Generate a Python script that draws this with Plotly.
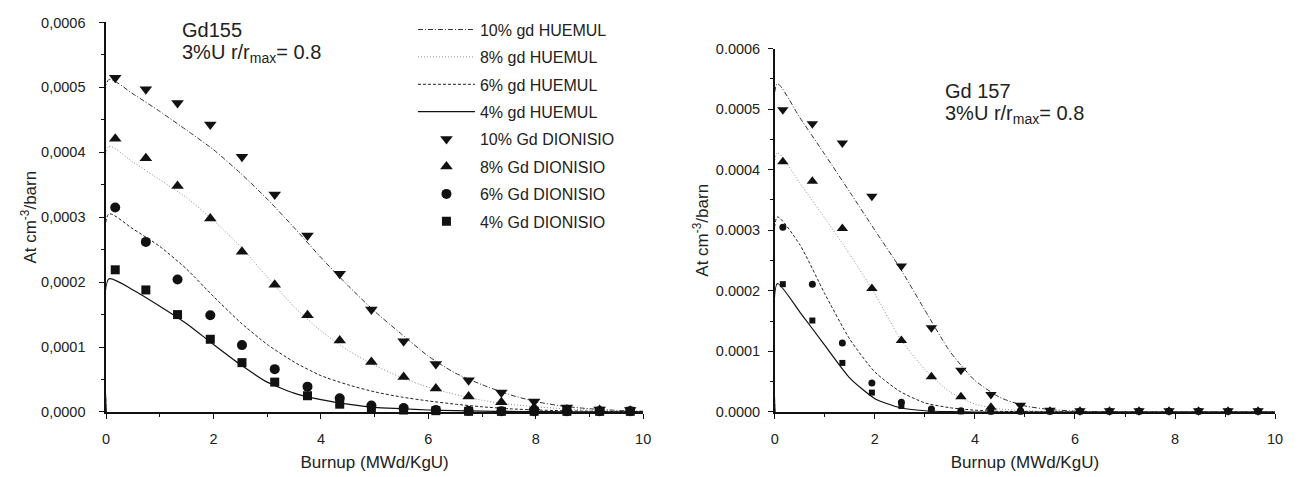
import plotly.graph_objects as go

# ---------- data ----------
# HUEMUL calculation curves (left: Gd155)
line_x = [0, 0.05, 0.5, 1, 1.5, 2, 2.5, 3, 3.5, 4, 4.5, 5, 5.5, 6, 6.5, 7, 7.5, 8, 8.5, 9, 9.5, 10]
gd155_h10 = [0, 5.12, 4.9, 4.63, 4.34, 4.04, 3.68, 3.28, 2.84, 2.38, 1.95, 1.55, 1.2, 0.86, 0.6, 0.42, 0.27, 0.16, 0.09, 0.05, 0.025, 0.012]
gd155_h8 = [0, 4.09, 3.85, 3.58, 3.3, 2.95, 2.55, 2.08, 1.62, 1.25, 0.95, 0.72, 0.53, 0.38, 0.27, 0.18, 0.12, 0.08, 0.05, 0.03, 0.015, 0.008]
gd155_h6 = [0, 3.05, 2.82, 2.55, 2.2, 1.78, 1.38, 1.04, 0.77, 0.56, 0.42, 0.31, 0.23, 0.17, 0.12, 0.08, 0.05, 0.03, 0.02, 0.012, 0.007, 0.004]
gd155_h4 = [0, 2.05, 1.88, 1.63, 1.36, 1.04, 0.73, 0.46, 0.29, 0.19, 0.12, 0.07, 0.05, 0.03, 0.02, 0.012, 0.008, 0.005, 0.003, 0.002, 0.001, 0.001]

# DIONISIO points (left: Gd155)
pt_x = [0.17, 0.74, 1.33, 1.94, 2.53, 3.14, 3.75, 4.35, 4.94, 5.54, 6.14, 6.75, 7.36, 7.97, 8.58, 9.19, 9.76]
gd155_d10 = [5.15, 4.97, 4.76, 4.43, 3.93, 3.35, 2.72, 2.13, 1.58, 1.09, 0.74, 0.49, 0.30, 0.16, 0.07, 0.04, 0.03]
gd155_d8 = [4.21, 3.91, 3.48, 2.98, 2.47, 1.96, 1.49, 1.10, 0.77, 0.54, 0.36, 0.24, 0.15, 0.07, 0.04, 0.03, 0.02]
gd155_d6 = [3.15, 2.62, 2.04, 1.49, 1.03, 0.66, 0.39, 0.21, 0.10, 0.06, 0.03, 0.02, 0.01, 0.01, 0.01, 0.01, 0.01]
gd155_d4 = [2.19, 1.88, 1.50, 1.12, 0.76, 0.46, 0.25, 0.12, 0.05, 0.03, 0.02, 0.01, 0.01, 0.01, 0.01, 0.01, 0.01]

# HUEMUL calculation curves (right: Gd157)
gd157_h10 = [0, 5.42, 4.86, 4.25, 3.63, 3.0, 2.38, 1.68, 1.0, 0.52, 0.24, 0.1, 0.04, 0.015, 0.006, 0.002, 0, 0, 0, 0, 0, 0]
gd157_h8 = [0, 4.28, 3.78, 3.2, 2.6, 1.95, 1.22, 0.7, 0.33, 0.13, 0.05, 0.02, 0.008, 0.003, 0, 0, 0, 0, 0, 0, 0, 0]
gd157_h6 = [0, 3.22, 2.76, 1.95, 1.2, 0.66, 0.34, 0.15, 0.07, 0.03, 0.01, 0.005, 0, 0, 0, 0, 0, 0, 0, 0, 0, 0]
gd157_h4 = [0, 2.12, 1.65, 1.1, 0.56, 0.22, 0.07, 0.02, 0.005, 0, 0, 0, 0, 0, 0, 0, 0, 0, 0, 0, 0, 0]

# DIONISIO points (right: Gd157)
pt_x2 = [0.16, 0.75, 1.35, 1.94, 2.53, 3.13, 3.72, 4.32, 4.91, 5.5, 6.1, 6.69, 7.28, 7.88, 8.47, 9.06, 9.66]
gd157_d10 = [4.99, 4.76, 4.44, 3.56, 2.41, 1.39, 0.69, 0.29, 0.11, 0.03, 0.02, 0.02, 0.02, 0.02, 0.02, 0.02, 0.02]
gd157_d8 = [4.13, 3.81, 3.03, 2.04, 1.18, 0.58, 0.25, 0.08, 0.02, 0.01, 0.01, 0.01, 0.01, 0.01, 0.01, 0.01, 0.01]
gd157_d6 = [3.05, 2.11, 1.14, 0.48, 0.16, 0.05, 0.02, 0.01, 0.01, 0.01, 0.01, 0.01, 0.01, 0.01, 0.01, 0.01, 0.01]
gd157_d4 = [2.11, 1.51, 0.81, 0.32, 0.10, 0.02, 0.01, 0.01, 0.01, 0.01, 0.01, 0.01, 0.01, 0.01, 0.01, 0.01, 0.01]

scale = 1e-4  # values above are in units of 1e-4 at/cm^3/barn

x_ticks = [0, 2, 4, 6, 8, 10]
y_ticks = [0, 0.0001, 0.0002, 0.0003, 0.0004, 0.0005, 0.0006]
y_ticktext_left = ["0,0000", "0,0001", "0,0002", "0,0003", "0,0004", "0,0005", "0,0006"]
y_ticktext_right = ["0.0000", "0.0001", "0.0002", "0.0003", "0.0004", "0.0005", "0.0006"]

line_names = ["10% gd HUEMUL", "8% gd HUEMUL", "6% gd HUEMUL", "4% gd HUEMUL"]
pt_names = ["10% Gd DIONISIO", "8% Gd DIONISIO", "6% Gd DIONISIO", "4% Gd DIONISIO"]

FONT = "Liberation Sans, Arial, sans-serif"
TXT = "#222222"

line_styles = [
    dict(color="#333333", width=1, dash="5px,2px,1px,2px", shape="spline", smoothing=0.6),
    dict(color="#8a8a8a", width=1, dash="1px,2px", shape="spline", smoothing=0.6),
    dict(color="#222222", width=1, dash="3px,2px", shape="spline", smoothing=0.6),
    dict(color="#111111", width=1.2, dash="solid", shape="spline", smoothing=0.6),
]
symbols = ["triangle-down", "triangle-up", "circle", "square"]
sizes_left = [11, 11, 10, 9]
sizes_right = [10, 10, 7, 6]

fig = go.Figure()

left_lines = [gd155_h10, gd155_h8, gd155_h6, gd155_h4]
left_pts = [gd155_d10, gd155_d8, gd155_d6, gd155_d4]
right_lines = [gd157_h10, gd157_h8, gd157_h6, gd157_h4]
right_pts = [gd157_d10, gd157_d8, gd157_d6, gd157_d4]

for i in range(4):
    fig.add_trace(go.Scatter(
        x=line_x, y=[v * scale for v in left_lines[i]], mode="lines",
        name=line_names[i], line=line_styles[i], legendgroup=f"g{i}",
        xaxis="x", yaxis="y"))
for i in range(4):
    fig.add_trace(go.Scatter(
        x=pt_x, y=[v * scale for v in left_pts[i]], mode="markers",
        name=pt_names[i], marker=dict(symbol=symbols[i], size=sizes_left[i], color="#111111"),
        legendgroup=f"p{i}", cliponaxis=False, xaxis="x", yaxis="y"))
for i in range(4):
    fig.add_trace(go.Scatter(
        x=line_x, y=[v * scale for v in right_lines[i]], mode="lines",
        name=line_names[i], line=line_styles[i], showlegend=False,
        xaxis="x2", yaxis="y2"))
for i in range(4):
    fig.add_trace(go.Scatter(
        x=pt_x2, y=[v * scale for v in right_pts[i]], mode="markers",
        name=pt_names[i], marker=dict(symbol=symbols[i], size=sizes_right[i], color="#111111"),
        showlegend=False, cliponaxis=False, xaxis="x2", yaxis="y2"))

axis_common = dict(
    showgrid=False, zeroline=False, showline=True, linecolor="#111111", linewidth=1.5,
    ticks="outside", ticklen=5, tickwidth=1.2, tickcolor="#111111",
    tickfont=dict(family=FONT, size=14.5, color=TXT),
)

xtitle = dict(text="Burnup (MWd/KgU)", font=dict(family=FONT, size=17, color=TXT), standoff=10)
ytitle = dict(text="At cm<sup>-3</sup>/barn", font=dict(family=FONT, size=17, color=TXT))
xminor = dict(dtick=1, ticks="outside", ticklen=3, tickcolor="#111111")
yminor = dict(dtick=0.00005, ticks="outside", ticklen=3, tickcolor="#111111")

fig.update_layout(
    width=1298, height=477,
    margin=dict(l=0, r=0, t=0, b=0),
    paper_bgcolor="white", plot_bgcolor="white",
    font=dict(family=FONT, color=TXT),
    xaxis=dict(domain=[0.0794, 0.497], anchor="y", range=[0, 10], tickvals=x_ticks,
               minor=xminor, ticklabelstandoff=8, title=xtitle, **axis_common),
    yaxis=dict(domain=[0.1237, 0.9686], anchor="x", range=[0, 0.0006], tickvals=y_ticks,
               ticktext=y_ticktext_left, minor=yminor, ticklabelstandoff=11,
               title=dict(standoff=0, **ytitle), **axis_common),
    xaxis2=dict(domain=[0.5994, 0.9884], anchor="y2", range=[0, 10], tickvals=x_ticks,
                minor=xminor, ticklabelstandoff=8, title=xtitle, **axis_common),
    yaxis2=dict(domain=[0.1237, 0.912], anchor="x2", range=[0, 0.0006], tickvals=y_ticks,
                ticktext=y_ticktext_right, minor=yminor, ticklabelstandoff=5,
                title=dict(standoff=3, **ytitle), **axis_common),
    legend=dict(x=0.318, y=0.99, xanchor="left", yanchor="top", bgcolor="rgba(0,0,0,0)",
                font=dict(family=FONT, size=16, color=TXT),
                itemwidth=57, tracegroupgap=3.6, traceorder="grouped"),
    showlegend=True,
    annotations=[
        dict(text="Gd155", xref="paper", yref="paper",
             x=0.1371, y=0.981, xanchor="left", yanchor="top", align="left", showarrow=False,
             font=dict(family=FONT, size=20, color=TXT)),
        dict(text="3%U r/r<sub>max</sub>= 0.8", xref="paper", yref="paper",
             x=0.1371, y=0.933, xanchor="left", yanchor="top", align="left", showarrow=False,
             font=dict(family=FONT, size=20, color=TXT)),
        dict(text="Gd 157", xref="paper", yref="paper",
             x=0.7304, y=0.849, xanchor="left", yanchor="top", align="left", showarrow=False,
             font=dict(family=FONT, size=20, color=TXT)),
        dict(text="3%U r/r<sub>max</sub>= 0.8", xref="paper", yref="paper",
             x=0.7304, y=0.801, xanchor="left", yanchor="top", align="left", showarrow=False,
             font=dict(family=FONT, size=20, color=TXT)),
    ],
)

fig.write_html("out.html")
